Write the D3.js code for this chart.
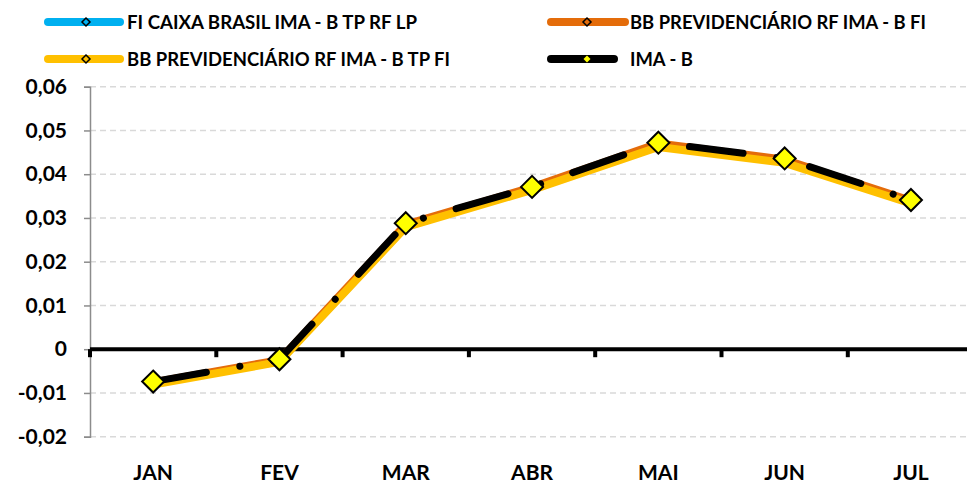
<!DOCTYPE html>
<html>
<head>
<meta charset="utf-8">
<script src="https://cdn.jsdelivr.net/npm/d3@7"></script>
<style>
  body { margin: 0; background: #fff; }
  text { font-family: Lato, "Open Sans", sans-serif; font-weight: bold; fill: #000; }
</style>
</head>
<body>
<svg id="chart" width="967" height="483"></svg>
<script>
// months on the x axis
const months = ['JAN', 'FEV', 'MAR', 'ABR', 'MAI', 'JUN', 'JUL'];
const yTicks = [-0.02, -0.01, 0, 0.01, 0.02, 0.03, 0.04, 0.05, 0.06];

// monthly returns
const caixa = [-0.0079, -0.0027, 0.0281, 0.0366, 0.0465, 0.0429, 0.0336];
const bbFi = [-0.0076, -0.0025, 0.0285, 0.0370, 0.0470, 0.0433, 0.0339];
const bbTp = [-0.0081, -0.0029, 0.0279, 0.0364, 0.0462, 0.0426, 0.0333];
const imaB = [-0.0074, -0.0023, 0.0288, 0.0371, 0.0472, 0.0436, 0.0341];

const seriesNames = [
  'FI CAIXA BRASIL IMA - B TP RF LP',
  'BB PREVIDENCIÁRIO RF IMA - B FI',
  'BB PREVIDENCIÁRIO RF IMA - B TP FI',
  'IMA - B'
];

const series = [
  { name: seriesNames[0], values: caixa, color: '#00B0F0' },
  { name: seriesNames[1], values: bbFi, color: '#E46C0A' },
  { name: seriesNames[2], values: bbTp, color: '#FFC000' },
  { name: seriesNames[3], values: imaB, color: '#000000' }
];

const svg = d3.select('#chart');
const width = +svg.attr('width');

const locale = d3.formatLocale({ decimal: ',', thousands: '.', grouping: [3], currency: ['R$', ''], minus: '-' });
const fmt = d => d === 0 ? '0' : locale.format('.2f')(d);

const x = d3.scaleBand().domain(months).range([90, 90 + 7 * 126.3]).padding(0);
const y = d3.scaleLinear().domain([-0.02, 0.06]).range([436.7, 86.7]);
const cx = m => x(m) + x.bandwidth() / 2;

// gridlines
svg.append('g')
  .selectAll('line')
  .data(yTicks.filter(t => t !== 0))
  .enter()
  .append('line')
  .attr('x1', 90).attr('x2', width)
  .attr('y1', d => y(d)).attr('y2', d => y(d))
  .attr('stroke', '#d9d9d9')
  .attr('stroke-width', 1.5)
  .attr('stroke-dasharray', '6,4');

// y axis
const yAxis = svg.append('g')
  .attr('transform', 'translate(90,0)')
  .call(d3.axisLeft(y).tickValues(yTicks).tickFormat(fmt).tickSize(6).tickPadding(17));
yAxis.select('.domain').attr('stroke', '#8c8c8c').attr('stroke-width', 1.5);
yAxis.selectAll('.tick line').attr('stroke', '#8c8c8c').attr('stroke-width', 1.5);
yAxis.selectAll('.tick text')
  .attr('font-size', 21)
  .style('font-family', 'Lato, sans-serif')
  .style('font-weight', 'bold')
  .attr('fill', '#000');

// zero line with category ticks
const xAxis = svg.append('g').attr('transform', `translate(0,${y(0)})`);
xAxis.append('line')
  .attr('x1', 90).attr('x2', width)
  .attr('stroke', '#000').attr('stroke-width', 4);
xAxis.selectAll('rect')
  .data(d3.range(8))
  .enter()
  .append('rect')
  .attr('x', i => 90 + i * x.step() - 2)
  .attr('y', 0)
  .attr('width', 4)
  .attr('height', 8)
  .attr('fill', '#000');

// month labels
svg.append('g')
  .selectAll('text')
  .data(months)
  .enter()
  .append('text')
  .attr('x', cx)
  .attr('y', 480)
  .attr('text-anchor', 'middle')
  .attr('font-size', 21)
  .text(d => d);

const line = d3.line().x((d, i) => cx(months[i])).y(d => y(d));

// series lines
series.forEach((s, k) => {
  const path = svg.append('path')
    .datum(s.values)
    .attr('d', line)
    .attr('fill', 'none')
    .attr('stroke', s.color)
    .attr('stroke-width', k === 3 ? 7 : 8)
    .attr('stroke-linejoin', 'round');
  if (k === 3) {
    // long dash dot
    path.attr('stroke-dasharray', '54,34,0.1,34').attr('stroke-linecap', 'round');
  }
});

// markers
const diamond = (r) => `M0,${-r}L${r},0L0,${r}L${-r},0Z`;
series.slice(0, 3).forEach(s => {
  svg.append('g')
    .selectAll('path')
    .data(s.values)
    .enter()
    .append('path')
    .attr('d', diamond(4))
    .attr('transform', (d, i) => `translate(${cx(months[i])},${y(d)})`)
    .attr('fill', 'none')
    .attr('stroke', '#000')
    .attr('stroke-width', 1.5);
});
svg.append('g')
  .selectAll('path')
  .data(imaB)
  .enter()
  .append('path')
  .attr('d', diamond(11))
  .attr('transform', (d, i) => `translate(${cx(months[i])},${y(d)})`)
  .attr('fill', '#FFFF00')
  .attr('stroke', '#000')
  .attr('stroke-width', 2);

// legend
const legendItems = [
  { s: series[0], x1: 48, x2: 120, tx: 127, ty: 22, tw: 290 },
  { s: series[1], x1: 551, x2: 625, tx: 630, ty: 22, tw: 296 },
  { s: series[2], x1: 48, x2: 120, tx: 127, ty: 59, tw: 323 },
  { s: series[3], x1: 551, x2: 614, tx: 630, ty: 59, tw: 63 }
];
const legend = svg.append('g').attr('class', 'legend');
legendItems.forEach((it, k) => {
  const g = legend.append('g');
  g.append('line')
    .attr('x1', it.x1).attr('x2', it.x2)
    .attr('y1', it.ty).attr('y2', it.ty)
    .attr('stroke', it.s.color)
    .attr('stroke-width', 8)
    .attr('stroke-linecap', 'round');
  const mx = (it.x1 === 48) ? 86 : 587;
  g.append('path')
    .attr('d', diamond(k === 3 ? 3.5 : 4))
    .attr('transform', `translate(${mx},${it.ty})`)
    .attr('fill', k === 3 ? '#FFFF00' : it.s.color)
    .attr('stroke', k === 3 ? 'none' : '#000')
    .attr('stroke-width', 1.5);
  g.append('text')
    .attr('x', it.tx)
    .attr('y', it.ty + 7)
    .attr('font-size', 19)
    .attr('textLength', it.tw)
    .attr('lengthAdjust', 'spacingAndGlyphs')
    .text(it.s.name);
});
</script>
</body>
</html>
